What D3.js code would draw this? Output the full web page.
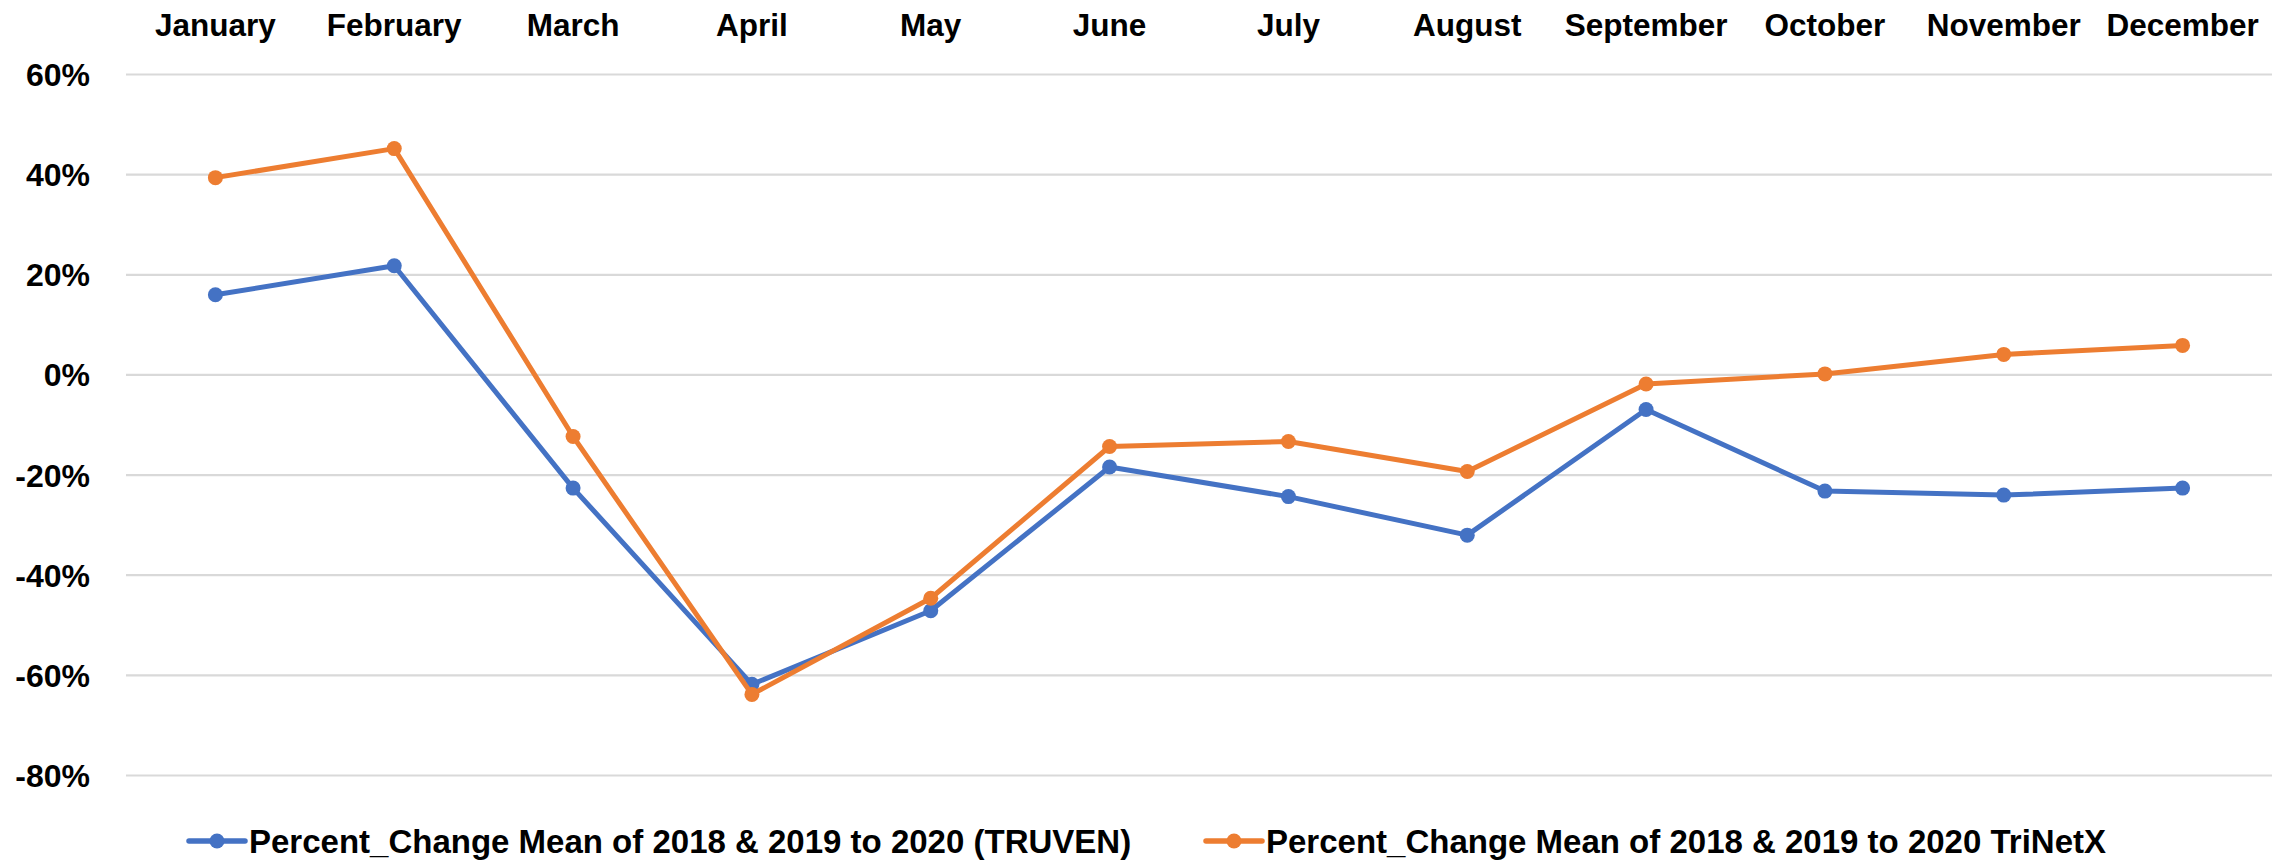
<!DOCTYPE html>
<html>
<head>
<meta charset="utf-8">
<script src="https://cdn.jsdelivr.net/npm/d3@7"></script>
<style>
    body { margin: 0; background: #fff; }
    svg text { font-family: "Liberation Sans", Arial, sans-serif; font-weight: bold; fill: #000; }
</style>
</head>
<body>
<div id="chart"></div>
<script>
const months = ["January", "February", "March", "April", "May", "June",
                "July", "August", "September", "October", "November", "December"];

// percent change, mean of 2018 & 2019 to 2020
const truvenValues = [0.159, 0.217, -0.227, -0.619, -0.472, -0.185, -0.244, -0.321, -0.070, -0.233, -0.241, -0.227];
const trinetxValues = [0.393, 0.451, -0.124, -0.639, -0.447, -0.144, -0.134, -0.194, -0.019, 0.001, 0.040, 0.058];

const yTicks = [0.6, 0.4, 0.2, 0, -0.2, -0.4, -0.6, -0.8];

const seriesNames = [
    "Percent_Change Mean of 2018 & 2019 to 2020 (TRUVEN)",
    "Percent_Change Mean of 2018 & 2019 to 2020 TriNetX"
];
const seriesColors = ["#4472C4", "#ED7D31"];

function drawLineChart() {
    const width = 2279,
          height = 862;
    const plot = { left: 126, right: 2272, top: 74, bottom: 775 };

    const svg = d3.select("#chart")
        .append("svg")
        .attr("width", width)
        .attr("height", height);

    const x = d3.scaleBand()
        .domain(months)
        .range([plot.left, plot.right])
        .padding(0);

    const y = d3.scaleLinear()
        .domain([-0.8, 0.6])
        .range([plot.bottom, plot.top]);

    // excel style percent, plain hyphen for negatives
    const pct = d => Math.round(d * 100) + "%";

    // gridlines + y labels
    const yAxis = svg.append("g")
        .attr("transform", `translate(${plot.left},0)`)
        .call(d3.axisLeft(y)
            .tickValues(yTicks)
            .tickFormat(pct)
            .tickSize(-(plot.right - plot.left))
            .tickPadding(36));
    yAxis.select(".domain").remove();
    yAxis.selectAll(".tick line")
        .attr("stroke", "#D9D9D9")
        .attr("stroke-width", 2.2);
    yAxis.selectAll(".tick text")
        .style("font-size", "32px")
        .attr("dy", "0.36em");

    // month labels on top
    const xAxis = svg.append("g")
        .attr("transform", `translate(0,${plot.top})`)
        .call(d3.axisTop(x).tickSize(0).tickPadding(38));
    xAxis.select(".domain").remove();
    xAxis.selectAll(".tick text")
        .style("font-size", "31.5px");

    const series = [truvenValues, trinetxValues];
    const cx = m => x(m) + x.bandwidth() / 2;

    const line = d3.line()
        .x((d, i) => cx(months[i]))
        .y(d => y(d));

    series.forEach((values, s) => {
        const g = svg.append("g");
        g.append("path")
            .datum(values)
            .attr("d", line)
            .attr("fill", "none")
            .attr("stroke", seriesColors[s])
            .attr("stroke-width", 5)
            .attr("stroke-linejoin", "round");
        g.selectAll("circle")
            .data(values)
            .join("circle")
            .attr("cx", (d, i) => cx(months[i]))
            .attr("cy", d => y(d))
            .attr("r", 7.5)
            .attr("fill", seriesColors[s]);
    });

    // legend
    const legendY = 841;
    const legendX = [189, 1206];
    seriesNames.forEach((name, s) => {
        const lg = svg.append("g").attr("transform", `translate(${legendX[s]},${legendY})`);
        lg.append("line")
            .attr("x1", 0).attr("x2", 56)
            .attr("stroke", seriesColors[s])
            .attr("stroke-width", 5.5)
            .attr("stroke-linecap", "round");
        lg.append("circle")
            .attr("cx", 28)
            .attr("r", 7.5)
            .attr("fill", seriesColors[s]);
        lg.append("text")
            .attr("x", 60)
            .attr("dy", "0.36em")
            .style("font-size", "33px")
            .text(name);
    });
}

drawLineChart();
</script>
</body>
</html>
